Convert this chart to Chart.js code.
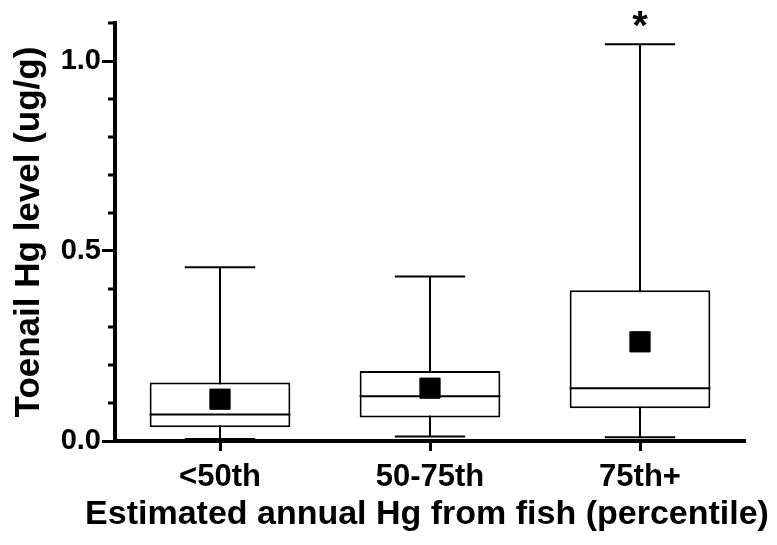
<!DOCTYPE html>
<html>
<head>
<meta charset="utf-8">
<script src="https://cdn.jsdelivr.net/npm/chart.js@4.4.1/dist/chart.umd.min.js"></script>
<style>
  body { margin: 0; background: #fff; }
</style>
</head>
<body>
<canvas id="myChart" width="777" height="545"></canvas>
<script>
var categories = ["<50th", "50-75th", "75th+"];
var whiskerMin = [0.005, 0.012, 0.010];
var q1 = [0.036, 0.062, 0.086];
var median = [0.070, 0.118, 0.139];
var q3 = [0.154, 0.184, 0.397];
var whiskerMax = [0.457, 0.433, 1.044];
var means = [0.110, 0.139, 0.261];
var marks = ["", "", "*"];
var yTickLabels = ["0.0", "0.5", "1.0"];
var xTitle = "Estimated annual Hg from fish (percentile)";
var yTitle = "Toenail Hg level (ug/g)";

var FONT = "'Liberation Sans', Arial, sans-serif";

function isMajor(v) {
    return Math.abs(v * 2 - Math.round(v * 2)) < 1e-6 && yTickLabels.indexOf(v.toFixed(1)) >= 0;
}

// whiskers, medians, minor ticks, x title and the asterisk
var boxExtras = {
    id: 'boxExtras',
    beforeDatasetsDraw: function (chart) {
        var ctx = chart.ctx, x = chart.scales.x, y = chart.scales.y;
        var meta = chart.getDatasetMeta(0);
        ctx.save();
        ctx.strokeStyle = '#000';
        ctx.lineWidth = 2;
        categories.forEach(function (c, i) {
            var cx = x.getPixelForValue(i);
            var half = meta.data[i].width / 4;
            var yMin = y.getPixelForValue(whiskerMin[i]);
            var yMax = y.getPixelForValue(whiskerMax[i]);
            ctx.beginPath();
            ctx.moveTo(cx, yMin);
            ctx.lineTo(cx, yMax);
            ctx.moveTo(cx - half, yMin);
            ctx.lineTo(cx + half, yMin);
            ctx.moveTo(cx - half, yMax);
            ctx.lineTo(cx + half, yMax);
            ctx.stroke();
        });
        ctx.restore();
    },
    afterDatasetDraw: function (chart, args) {
        if (args.index !== 0) return;
        var ctx = chart.ctx, y = chart.scales.y;
        ctx.save();
        ctx.strokeStyle = '#000';
        ctx.lineWidth = 2;
        args.meta.data.forEach(function (bar, i) {
            var py = y.getPixelForValue(median[i]);
            ctx.beginPath();
            ctx.moveTo(bar.x - bar.width / 2, py);
            ctx.lineTo(bar.x + bar.width / 2, py);
            ctx.stroke();
        });
        ctx.restore();
    },
    afterDraw: function (chart) {
        var ctx = chart.ctx, x = chart.scales.x, y = chart.scales.y;
        ctx.save();
        // minor ticks on the y axis
        ctx.strokeStyle = '#000';
        ctx.lineWidth = 3;
        y.ticks.forEach(function (t) {
            if (isMajor(t.value)) return;
            var py = Math.round(y.getPixelForValue(t.value));
            ctx.beginPath();
            ctx.moveTo(chart.chartArea.left - 7, py);
            ctx.lineTo(chart.chartArea.left, py);
            ctx.stroke();
        });
        ctx.fillStyle = '#000';
        ctx.textAlign = 'center';
        // x axis title, wider than the plot area
        ctx.font = 'bold 34px ' + FONT;
        ctx.textBaseline = 'alphabetic';
        ctx.fillText(xTitle, 427, 524, 688);
        // significance marks
        ctx.font = 'bold 40px ' + FONT;
        marks.forEach(function (m, i) {
            if (!m) return;
            ctx.fillText(m, x.getPixelForValue(i), y.getPixelForValue(whiskerMax[i]) - 5);
        });
        ctx.restore();
    }
};

var boxes = categories.map(function (c, i) { return [q1[i], q3[i]]; });

var ctx = document.getElementById('myChart').getContext('2d');
var chart = new Chart(ctx, {
    type: 'bar',
    data: {
        labels: categories,
        datasets: [
            {
                label: "Q1-Q3",
                data: boxes,
                backgroundColor: '#fff',
                borderColor: '#000',
                borderWidth: 2,
                borderSkipped: false,
                barPercentage: 0.67,
                categoryPercentage: 1,
                order: 2
            },
            {
                type: 'line',
                label: "Mean",
                data: means,
                showLine: false,
                pointStyle: 'rect',
                pointRadius: 14.3,
                pointBackgroundColor: '#000',
                pointBorderColor: '#000',
                pointBorderWidth: 1,
                order: 0
            }
        ]
    },
    options: {
        responsive: false,
        animation: false,
        layout: { padding: { top: 23, right: 32, left: 0, bottom: 0 } },
        plugins: {
            legend: { display: false },
            tooltip: { enabled: false }
        },
        scales: {
            x: {
                afterFit: function (s) { s.height = 104; },
                grid: {
                    offset: false,
                    drawOnChartArea: false,
                    tickLength: 10,
                    tickWidth: 3,
                    tickColor: '#000'
                },
                border: { color: '#000', width: 4 },
                ticks: {
                    color: '#000',
                    padding: 8,
                    font: { family: FONT, size: 31, weight: 'bold' }
                },
                title: { display: false }
            },
            y: {
                min: 0,
                max: 1.1,
                afterFit: function (s) { s.width = 115; },
                grid: {
                    drawOnChartArea: false,
                    tickLength: 13,
                    tickWidth: 3,
                    tickColor: function (c) { return isMajor(c.tick.value) ? '#000' : 'rgba(0,0,0,0)'; }
                },
                border: { color: '#000', width: 4 },
                ticks: {
                    stepSize: 0.1,
                    autoSkip: false,
                    color: '#000',
                    padding: 1,
                    font: { family: FONT, size: 29, weight: 'bold' },
                    callback: function (v) { return isMajor(v) ? v.toFixed(1) : ''; }
                },
                title: {
                    display: true,
                    text: yTitle,
                    color: '#000',
                    padding: { top: 8, bottom: 0 },
                    font: { family: FONT, size: 35, weight: 'bold' }
                }
            }
        }
    },
    plugins: [boxExtras]
});
</script>
</body>
</html>
